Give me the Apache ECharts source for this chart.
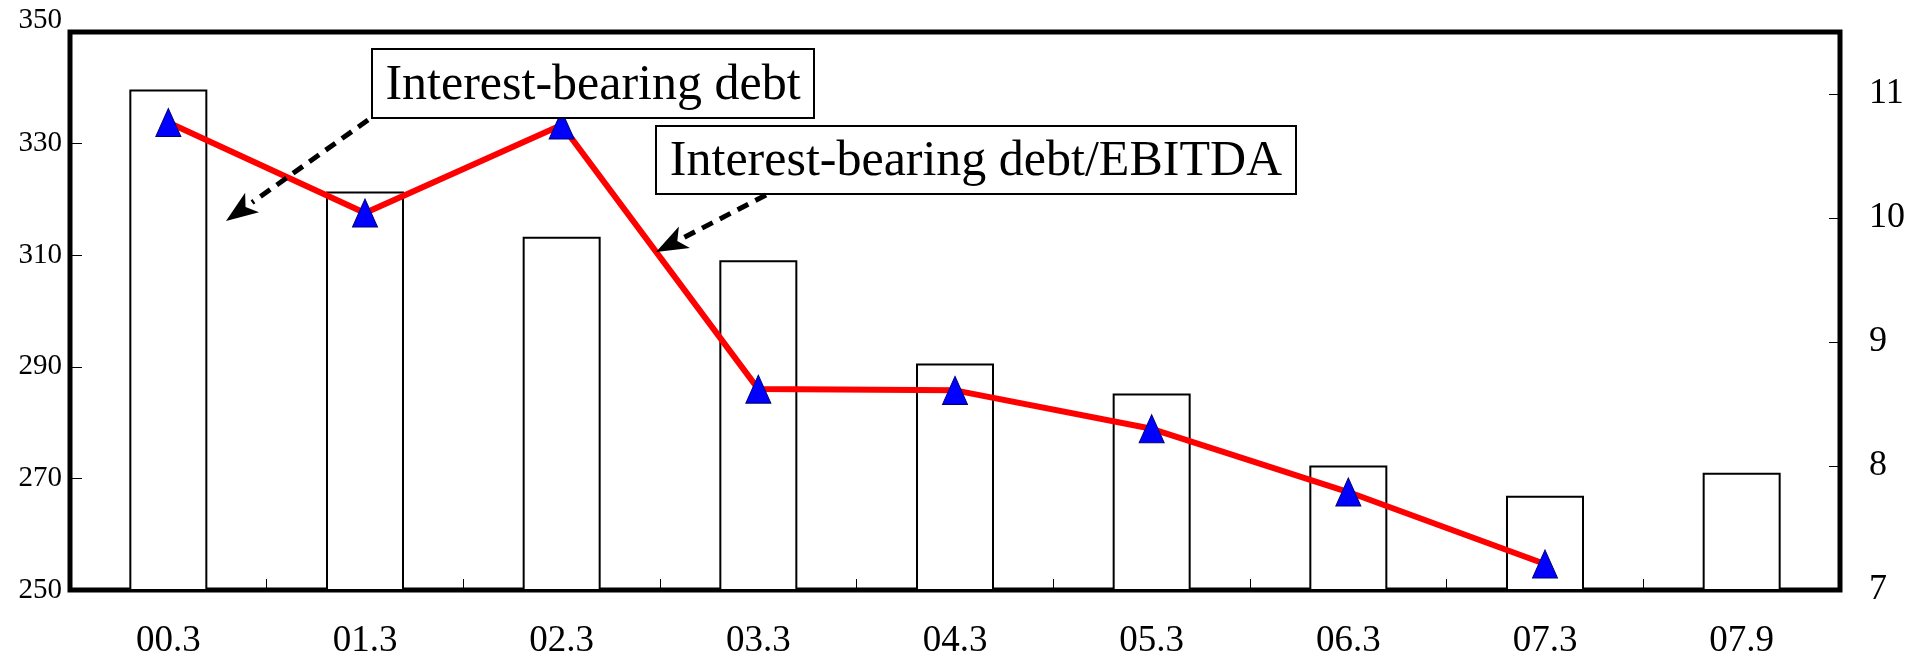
<!DOCTYPE html>
<html>
<head>
<meta charset="utf-8">
<script src="https://cdn.jsdelivr.net/npm/echarts@6/dist/echarts.min.js"></script>
<style>
  html, body { margin: 0; padding: 0; background: #fff; }
  #chart { width: 1924px; height: 662px; }
</style>
</head>
<body>
<div id="chart"></div>
<script>
// periods on the x axis
const categories = ['00.3', '01.3', '02.3', '03.3', '04.3', '05.3', '06.3', '07.3', '07.9']
// interest-bearing debt (left axis, bars)
const debtValues = [339.7, 321.4, 313.3, 309.1, 290.6, 285.2, 272.3, 266.9, 271.0]
// interest-bearing debt / EBITDA (right axis, line)
const ratioValues = [10.77, 10.04, 10.75, 8.62, 8.61, 8.30, 7.79, 7.21, null]

// callout boxes with dashed arrows
const notes = [
  { text: 'Interest-bearing debt', box: [372, 49, 442, 69], from: [368, 120], to: [226, 221] },
  { text: 'Interest-bearing debt/EBITDA', box: [656, 126, 640, 68], from: [766, 195], to: [656, 252] }
]

const serif = '"Liberation Serif", "Times New Roman", serif'

function buildNotes() {
  const els = []
  notes.forEach(n => {
    const [bx, by, bw, bh] = n.box
    els.push({
      type: 'rect',
      shape: { x: bx, y: by, width: bw, height: bh },
      style: { fill: '#fff', stroke: '#000', lineWidth: 2 },
      z: 100
    })
    els.push({
      type: 'text',
      x: bx + bw / 2,
      y: by + bh / 2 + 2,
      style: {
        text: n.text,
        font: '50px ' + serif,
        fill: '#000',
        align: 'center',
        verticalAlign: 'middle'
      },
      z: 101
    })
    // arrow: dashed shaft + filled head
    const dx = n.to[0] - n.from[0]
    const dy = n.to[1] - n.from[1]
    const len = Math.sqrt(dx * dx + dy * dy)
    const ux = dx / len
    const uy = dy / len
    const headLen = 32
    const headHalf = 12
    const bxh = n.to[0] - ux * headLen
    const byh = n.to[1] - uy * headLen
    els.push({
      type: 'line',
      shape: { x1: n.from[0], y1: n.from[1], x2: bxh, y2: byh },
      style: { stroke: '#000', lineWidth: 5, lineDash: [12, 8] },
      z: 100
    })
    els.push({
      type: 'polygon',
      shape: {
        points: [
          n.to,
          [bxh - uy * headHalf, byh + ux * headHalf],
          [n.to[0] - ux * headLen * 0.75, n.to[1] - uy * headLen * 0.75],
          [bxh + uy * headHalf, byh - ux * headHalf]
        ]
      },
      style: { fill: '#000' },
      z: 100
    })
  })
  return els
}

const chart = echarts.init(document.getElementById('chart'))
chart.setOption({
  animation: false,
  backgroundColor: '#fff',
  grid: {
    left: 70,
    right: 84,
    top: 32,
    bottom: 72,
    show: true,
    borderColor: '#000',
    borderWidth: 5
  },
  xAxis: {
    type: 'category',
    data: categories,
    boundaryGap: true,
    axisLine: { show: false },
    axisTick: {
      show: true,
      inside: true,
      length: 11,
      lineStyle: { color: '#000', width: 1 }
    },
    axisLabel: {
      color: '#000',
      fontFamily: serif,
      fontSize: 37,
      margin: 33
    }
  },
  yAxis: [
    {
      type: 'value',
      min: 250,
      max: 350,
      interval: 20,
      splitLine: { show: false },
      axisLine: { show: false },
      axisTick: {
        show: true,
        inside: true,
        length: 12,
        lineStyle: { color: '#000', width: 1 }
      },
      axisLabel: {
        color: '#000',
        fontFamily: serif,
        fontSize: 29,
        margin: 8,
        formatter: v => (v === 350 ? '{top|350}' : String(v)),
        rich: {
          top: { fontFamily: serif, fontSize: 29, color: '#000', padding: [0, 0, 24, 0] }
        }
      }
    },
    {
      type: 'value',
      min: 7,
      max: 11.5,
      interval: 1,
      splitLine: { show: false },
      axisLine: { show: false },
      axisTick: {
        show: true,
        inside: true,
        length: 11,
        lineStyle: { color: '#000', width: 1 }
      },
      axisLabel: {
        color: '#000',
        fontFamily: serif,
        fontSize: 36,
        margin: 29,
        showMaxLabel: false
      }
    }
  ],
  series: [
    {
      name: 'Interest-bearing debt',
      type: 'bar',
      data: debtValues,
      barWidth: 78,
      itemStyle: {
        color: '#fff',
        borderColor: '#000',
        borderWidth: 2
      },
      z: 2
    },
    {
      name: 'Interest-bearing debt/EBITDA',
      type: 'line',
      yAxisIndex: 1,
      data: ratioValues,
      symbol: 'triangle',
      symbolSize: [25, 28],
      showAllSymbol: true,
      lineStyle: { color: '#ff0000', width: 6 },
      itemStyle: {
        color: '#0000ff',
        borderColor: '#00007a',
        borderWidth: 1
      },
      z: 3
    }
  ],
  graphic: buildNotes()
})
</script>
</body>
</html>
